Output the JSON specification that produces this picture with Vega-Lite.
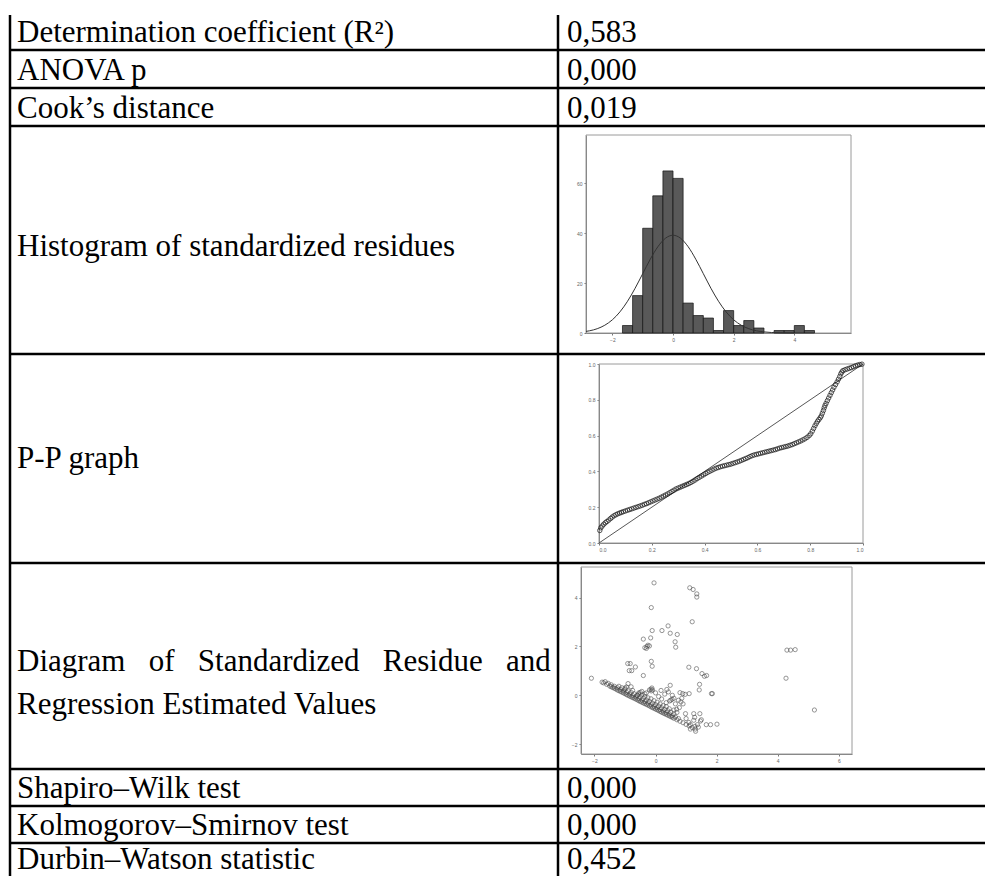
{
"$schema": "https://vega.github.io/schema/vega-lite/v6.json",
"padding": {"left": 8, "top": 13, "right": 0, "bottom": 0},
"background": "white",
"columns": 2,
"spacing": 0,
"bounds": "flush",
"config": {
  "view": {"stroke": null},
  "concat": {"spacing": 0},
  "text": {"font": "Liberation Serif", "fontSize": 31, "color": "black"},
  "rule": {"color": "black", "strokeWidth": 2.5},
  "axis": {"grid": false, "title": null, "labelFont": "Liberation Sans", "labelFontSize": 5, "labelColor": "#666", "tickSize": 2, "tickColor": "#777", "domainColor": "#777", "labelPadding": 2}
},
"concat": [
  {"width": 548, "height": 35, "data": {"values": [{"label": "Determination coefficient (R²)"}]}, "layer": [
    {"mark": {"type": "text", "align": "left", "baseline": "alphabetic", "dx": 7, "dy": -8}, "encoding": {"text": {"field": "label"}, "x": {"value": 0}, "y": {"value": "height"}}},
    {"mark": "rule", "encoding": {"x": {"value": 0}, "y": {"value": 0}, "y2": {"value": "height"}}},
    {"mark": "rule", "encoding": {"x": {"value": "width"}, "y": {"value": 0}, "y2": {"value": "height"}}},
    {"mark": "rule", "encoding": {"x": {"value": 0}, "x2": {"value": "width"}, "y": {"value": "height"}}}
  ]},
  {"width": 427, "height": 35, "data": {"values": [{"label": "0,583"}]}, "layer": [
    {"mark": {"type": "text", "align": "left", "baseline": "alphabetic", "dx": 9, "dy": -8}, "encoding": {"text": {"field": "label"}, "x": {"value": 0}, "y": {"value": "height"}}},
    {"mark": "rule", "encoding": {"x": {"value": 0}, "x2": {"value": "width"}, "y": {"value": "height"}}}
  ]},
  {"width": 548, "height": 38, "data": {"values": [{"label": "ANOVA p"}]}, "layer": [
    {"mark": {"type": "text", "align": "left", "baseline": "alphabetic", "dx": 7, "dy": -8}, "encoding": {"text": {"field": "label"}, "x": {"value": 0}, "y": {"value": "height"}}},
    {"mark": "rule", "encoding": {"x": {"value": 0}, "y": {"value": 0}, "y2": {"value": "height"}}},
    {"mark": "rule", "encoding": {"x": {"value": "width"}, "y": {"value": 0}, "y2": {"value": "height"}}},
    {"mark": "rule", "encoding": {"x": {"value": 0}, "x2": {"value": "width"}, "y": {"value": "height"}}}
  ]},
  {"width": 427, "height": 38, "data": {"values": [{"label": "0,000"}]}, "layer": [
    {"mark": {"type": "text", "align": "left", "baseline": "alphabetic", "dx": 9, "dy": -8}, "encoding": {"text": {"field": "label"}, "x": {"value": 0}, "y": {"value": "height"}}},
    {"mark": "rule", "encoding": {"x": {"value": 0}, "x2": {"value": "width"}, "y": {"value": "height"}}}
  ]},
  {"width": 548, "height": 38, "data": {"values": [{"label": "Cook’s distance"}]}, "layer": [
    {"mark": {"type": "text", "align": "left", "baseline": "alphabetic", "dx": 7, "dy": -8}, "encoding": {"text": {"field": "label"}, "x": {"value": 0}, "y": {"value": "height"}}},
    {"mark": "rule", "encoding": {"x": {"value": 0}, "y": {"value": 0}, "y2": {"value": "height"}}},
    {"mark": "rule", "encoding": {"x": {"value": "width"}, "y": {"value": 0}, "y2": {"value": "height"}}},
    {"mark": "rule", "encoding": {"x": {"value": 0}, "x2": {"value": "width"}, "y": {"value": "height"}}}
  ]},
  {"width": 427, "height": 38, "data": {"values": [{"label": "0,019"}]}, "layer": [
    {"mark": {"type": "text", "align": "left", "baseline": "alphabetic", "dx": 9, "dy": -8}, "encoding": {"text": {"field": "label"}, "x": {"value": 0}, "y": {"value": "height"}}},
    {"mark": "rule", "encoding": {"x": {"value": 0}, "x2": {"value": "width"}, "y": {"value": "height"}}}
  ]},
  {"width": 548, "height": 228, "data": {"values": [{"label": "Histogram of standardized residues"}]}, "layer": [
    {"mark": {"type": "text", "align": "left", "baseline": "alphabetic", "dx": 7, "dy": 130}, "encoding": {"text": {"field": "label"}, "x": {"value": 0}, "y": {"value": 0}}},
    {"mark": "rule", "encoding": {"x": {"value": 0}, "y": {"value": 0}, "y2": {"value": "height"}}},
    {"mark": "rule", "encoding": {"x": {"value": "width"}, "y": {"value": 0}, "y2": {"value": "height"}}},
    {"mark": "rule", "encoding": {"x": {"value": 0}, "x2": {"value": "width"}, "y": {"value": "height"}}}
  ]},
  {"width": 427, "height": 228, "layer": [
    {"data": {"values": [{"k": 1}]}, "mark": {"type": "rect", "fillOpacity": 0, "stroke": "#9a9a9a", "strokeWidth": 1},
     "encoding": {"x": {"datum": -2.87, "type": "quantitative"}, "x2": {"datum": 5.87}, "y": {"datum": 0, "type": "quantitative"}, "y2": {"datum": 79.4}}},
    {"data": {"values": [
      {"bin_start": -1.667, "bin_end": -1.333, "count": 3},
      {"bin_start": -1.333, "bin_end": -1.0, "count": 15},
      {"bin_start": -1.0, "bin_end": -0.667, "count": 42},
      {"bin_start": -0.667, "bin_end": -0.333, "count": 55},
      {"bin_start": -0.333, "bin_end": 0.0, "count": 65},
      {"bin_start": 0.0, "bin_end": 0.333, "count": 62},
      {"bin_start": 0.333, "bin_end": 0.667, "count": 12},
      {"bin_start": 0.667, "bin_end": 1.0, "count": 7},
      {"bin_start": 1.0, "bin_end": 1.333, "count": 6},
      {"bin_start": 1.333, "bin_end": 1.667, "count": 1},
      {"bin_start": 1.667, "bin_end": 2.0, "count": 9},
      {"bin_start": 2.0, "bin_end": 2.333, "count": 3},
      {"bin_start": 2.333, "bin_end": 2.667, "count": 5},
      {"bin_start": 2.667, "bin_end": 3.0, "count": 2},
      {"bin_start": 3.333, "bin_end": 3.667, "count": 1},
      {"bin_start": 3.667, "bin_end": 4.0, "count": 1},
      {"bin_start": 4.0, "bin_end": 4.333, "count": 3},
      {"bin_start": 4.333, "bin_end": 4.667, "count": 1}
    ]},
     "mark": {"type": "rect", "fill": "#595959", "stroke": "#111", "strokeWidth": 0.7},
     "encoding": {
       "x": {"field": "bin_start", "type": "quantitative", "scale": {"domain": [-2.87, 5.87], "range": [28, 293], "nice": false, "zero": false, "padding": 0}, "axis": {"values": [-2, 0, 2, 4], "format": "d", "offset": -21}},
       "x2": {"field": "bin_end"},
       "y": {"field": "count", "type": "quantitative", "scale": {"domain": [0, 79.4], "range": [207, 9], "nice": false, "zero": false, "padding": 0}, "axis": {"values": [0, 20, 40, 60], "format": "d", "offset": -28}},
       "y2": {"datum": 0}
     }},
    {"data": {"values": [
      {"z": -2.87, "freq": 0.64}, {"z": -2.75, "freq": 0.89}, {"z": -2.5, "freq": 1.72}, {"z": -2.25, "freq": 3.12},
      {"z": -2.0, "freq": 5.3}, {"z": -1.75, "freq": 8.48}, {"z": -1.5, "freq": 12.73}, {"z": -1.25, "freq": 17.95},
      {"z": -1.0, "freq": 23.78}, {"z": -0.75, "freq": 29.59}, {"z": -0.5, "freq": 34.59}, {"z": -0.25, "freq": 37.99},
      {"z": 0.0, "freq": 39.2}, {"z": 0.25, "freq": 37.99}, {"z": 0.5, "freq": 34.59}, {"z": 0.75, "freq": 29.59},
      {"z": 1.0, "freq": 23.78}, {"z": 1.25, "freq": 17.95}, {"z": 1.5, "freq": 12.73}, {"z": 1.75, "freq": 8.48},
      {"z": 2.0, "freq": 5.3}, {"z": 2.25, "freq": 3.12}, {"z": 2.5, "freq": 1.72}, {"z": 2.75, "freq": 0.89},
      {"z": 3.0, "freq": 0.44}, {"z": 3.25, "freq": 0.2}, {"z": 3.5, "freq": 0.09}, {"z": 3.75, "freq": 0.04}, {"z": 4.0, "freq": 0.01}
    ]},
     "mark": {"type": "line", "color": "#333", "strokeWidth": 1, "interpolate": "monotone"},
     "encoding": {"x": {"field": "z", "type": "quantitative"}, "y": {"field": "freq", "type": "quantitative"}}},
    {"data": {"values": [{"k": 1}]}, "mark": "rule", "encoding": {"x": {"value": 0}, "x2": {"value": "width"}, "y": {"value": "height"}}}
  ]},
  {"width": 548, "height": 209, "data": {"values": [{"label": "P-P graph"}]}, "layer": [
    {"mark": {"type": "text", "align": "left", "baseline": "alphabetic", "dx": 7, "dy": 114}, "encoding": {"text": {"field": "label"}, "x": {"value": 0}, "y": {"value": 0}}},
    {"mark": "rule", "encoding": {"x": {"value": 0}, "y": {"value": 0}, "y2": {"value": "height"}}},
    {"mark": "rule", "encoding": {"x": {"value": "width"}, "y": {"value": 0}, "y2": {"value": "height"}}},
    {"mark": "rule", "encoding": {"x": {"value": 0}, "x2": {"value": "width"}, "y": {"value": "height"}}}
  ]},
  {"width": 427, "height": 209, "layer": [
    {"data": {"values": [{"k": 1}]}, "mark": {"type": "rect", "fillOpacity": 0, "stroke": "#9a9a9a", "strokeWidth": 1},
     "encoding": {"x": {"datum": 0, "type": "quantitative"}, "x2": {"datum": 1}, "y": {"datum": 0, "type": "quantitative"}, "y2": {"datum": 1}}},
    {"data": {"values": [{"p": 0, "q": 0}, {"p": 1, "q": 1}]},
     "mark": {"type": "line", "color": "#444", "strokeWidth": 0.9},
     "encoding": {
       "x": {"field": "p", "type": "quantitative", "scale": {"domain": [0, 1], "range": [41, 305], "nice": false}, "axis": {"values": [0, 0.2, 0.4, 0.6, 0.8, 1], "format": ".1f", "offset": -20}},
       "y": {"field": "q", "type": "quantitative", "scale": {"domain": [0, 1], "range": [189, 10], "nice": false}, "axis": {"values": [0, 0.2, 0.4, 0.6, 0.8, 1], "format": ".1f", "offset": -41}}
     }},
    {"data": {"values": [
      {"p": 0.003, "q": 0.07}, {"p": 0.007, "q": 0.085}, {"p": 0.012, "q": 0.095}, {"p": 0.018, "q": 0.105}, {"p": 0.024, "q": 0.113},
      {"p": 0.03, "q": 0.12}, {"p": 0.037, "q": 0.128}, {"p": 0.044, "q": 0.137}, {"p": 0.05, "q": 0.145}, {"p": 0.057, "q": 0.152},
      {"p": 0.064, "q": 0.158}, {"p": 0.071, "q": 0.163}, {"p": 0.078, "q": 0.167}, {"p": 0.085, "q": 0.171}, {"p": 0.092, "q": 0.175},
      {"p": 0.1, "q": 0.179}, {"p": 0.108, "q": 0.183}, {"p": 0.116, "q": 0.187}, {"p": 0.124, "q": 0.191}, {"p": 0.132, "q": 0.195},
      {"p": 0.14, "q": 0.199}, {"p": 0.148, "q": 0.203}, {"p": 0.156, "q": 0.207}, {"p": 0.164, "q": 0.211}, {"p": 0.172, "q": 0.216},
      {"p": 0.18, "q": 0.22}, {"p": 0.188, "q": 0.225}, {"p": 0.196, "q": 0.23}, {"p": 0.204, "q": 0.235}, {"p": 0.212, "q": 0.24},
      {"p": 0.22, "q": 0.245}, {"p": 0.228, "q": 0.25}, {"p": 0.236, "q": 0.256}, {"p": 0.244, "q": 0.262}, {"p": 0.252, "q": 0.268},
      {"p": 0.26, "q": 0.274}, {"p": 0.268, "q": 0.281}, {"p": 0.276, "q": 0.288}, {"p": 0.284, "q": 0.295}, {"p": 0.292, "q": 0.302},
      {"p": 0.3, "q": 0.307}, {"p": 0.308, "q": 0.312}, {"p": 0.316, "q": 0.317}, {"p": 0.324, "q": 0.322}, {"p": 0.332, "q": 0.327},
      {"p": 0.34, "q": 0.332}, {"p": 0.348, "q": 0.338}, {"p": 0.356, "q": 0.345}, {"p": 0.364, "q": 0.352}, {"p": 0.372, "q": 0.36},
      {"p": 0.38, "q": 0.367}, {"p": 0.388, "q": 0.374}, {"p": 0.396, "q": 0.381}, {"p": 0.404, "q": 0.388}, {"p": 0.412, "q": 0.395},
      {"p": 0.42, "q": 0.401}, {"p": 0.428, "q": 0.407}, {"p": 0.436, "q": 0.413}, {"p": 0.444, "q": 0.418}, {"p": 0.452, "q": 0.422},
      {"p": 0.46, "q": 0.426}, {"p": 0.468, "q": 0.429}, {"p": 0.476, "q": 0.432}, {"p": 0.484, "q": 0.435}, {"p": 0.492, "q": 0.438},
      {"p": 0.5, "q": 0.441}, {"p": 0.508, "q": 0.445}, {"p": 0.516, "q": 0.449}, {"p": 0.524, "q": 0.453}, {"p": 0.532, "q": 0.457},
      {"p": 0.54, "q": 0.462}, {"p": 0.548, "q": 0.467}, {"p": 0.556, "q": 0.472}, {"p": 0.564, "q": 0.477}, {"p": 0.572, "q": 0.483},
      {"p": 0.58, "q": 0.488}, {"p": 0.588, "q": 0.492}, {"p": 0.596, "q": 0.495}, {"p": 0.604, "q": 0.498}, {"p": 0.612, "q": 0.501},
      {"p": 0.62, "q": 0.504}, {"p": 0.628, "q": 0.507}, {"p": 0.636, "q": 0.51}, {"p": 0.644, "q": 0.513}, {"p": 0.652, "q": 0.516},
      {"p": 0.66, "q": 0.519}, {"p": 0.668, "q": 0.522}, {"p": 0.676, "q": 0.526}, {"p": 0.684, "q": 0.53}, {"p": 0.692, "q": 0.533},
      {"p": 0.7, "q": 0.536}, {"p": 0.708, "q": 0.539}, {"p": 0.716, "q": 0.542}, {"p": 0.724, "q": 0.546}, {"p": 0.732, "q": 0.55},
      {"p": 0.74, "q": 0.555}, {"p": 0.748, "q": 0.56}, {"p": 0.756, "q": 0.565}, {"p": 0.764, "q": 0.57}, {"p": 0.772, "q": 0.576},
      {"p": 0.78, "q": 0.582}, {"p": 0.788, "q": 0.59}, {"p": 0.796, "q": 0.6}, {"p": 0.802, "q": 0.61}, {"p": 0.808, "q": 0.625},
      {"p": 0.813, "q": 0.64}, {"p": 0.818, "q": 0.655}, {"p": 0.823, "q": 0.668}, {"p": 0.828, "q": 0.68}, {"p": 0.833, "q": 0.69},
      {"p": 0.838, "q": 0.7}, {"p": 0.842, "q": 0.71}, {"p": 0.846, "q": 0.725}, {"p": 0.85, "q": 0.74}, {"p": 0.853, "q": 0.755},
      {"p": 0.856, "q": 0.768}, {"p": 0.86, "q": 0.78}, {"p": 0.865, "q": 0.795}, {"p": 0.87, "q": 0.81}, {"p": 0.875, "q": 0.825},
      {"p": 0.88, "q": 0.84}, {"p": 0.885, "q": 0.855}, {"p": 0.89, "q": 0.87}, {"p": 0.896, "q": 0.885}, {"p": 0.902, "q": 0.9},
      {"p": 0.907, "q": 0.915}, {"p": 0.912, "q": 0.93}, {"p": 0.916, "q": 0.945}, {"p": 0.92, "q": 0.955}, {"p": 0.924, "q": 0.963},
      {"p": 0.932, "q": 0.968}, {"p": 0.94, "q": 0.972}, {"p": 0.948, "q": 0.976}, {"p": 0.956, "q": 0.98}, {"p": 0.964, "q": 0.985},
      {"p": 0.972, "q": 0.99}, {"p": 0.98, "q": 0.994}, {"p": 0.988, "q": 0.997}, {"p": 0.996, "q": 0.999}
    ]},
     "mark": {"type": "point", "shape": "circle", "filled": false, "size": 20, "stroke": "#111", "strokeWidth": 1},
     "encoding": {"x": {"field": "p", "type": "quantitative"}, "y": {"field": "q", "type": "quantitative"}}},
    {"data": {"values": [{"k": 1}]}, "mark": "rule", "encoding": {"x": {"value": 0}, "x2": {"value": "width"}, "y": {"value": "height"}}}
  ]},
  {"width": 548, "height": 206, "data": {"values": [{"label": ["Diagram \u00a0\u00a0of \u00a0\u00a0Standardized \u00a0\u00a0Residue \u00a0\u00a0and", "Regression Estimated Values"]}]}, "layer": [
    {"mark": {"type": "text", "align": "left", "baseline": "alphabetic", "dx": 7, "dy": 108, "lineHeight": 43}, "encoding": {"text": {"field": "label"}, "x": {"value": 0}, "y": {"value": 0}}},
    {"mark": "rule", "encoding": {"x": {"value": 0}, "y": {"value": 0}, "y2": {"value": "height"}}},
    {"mark": "rule", "encoding": {"x": {"value": "width"}, "y": {"value": 0}, "y2": {"value": "height"}}},
    {"mark": "rule", "encoding": {"x": {"value": 0}, "x2": {"value": "width"}, "y": {"value": "height"}}}
  ]},
  {"width": 427, "height": 206, "layer": [
    {"data": {"values": [{"k": 1}]}, "mark": {"type": "rect", "fillOpacity": 0, "stroke": "#9a9a9a", "strokeWidth": 1},
     "encoding": {"x": {"datum": -2.44, "type": "quantitative"}, "x2": {"datum": 6.43}, "y": {"datum": -2.4, "type": "quantitative"}, "y2": {"datum": 5.25}}},
    {"data": {"values": [
      {"pred": -1.7, "resid": 0.51}, {"pred": -1.6, "resid": 0.45}, {"pred": -1.5, "resid": 0.38}, {"pred": -1.4, "resid": 0.32}, {"pred": -1.3, "resid": 0.26},
      {"pred": -1.2, "resid": 0.19}, {"pred": -1.1, "resid": 0.13}, {"pred": -1.0, "resid": 0.07}, {"pred": -0.9, "resid": 0.0}, {"pred": -0.8, "resid": -0.06},
      {"pred": -0.7, "resid": -0.12}, {"pred": -0.6, "resid": -0.18}, {"pred": -0.5, "resid": -0.25}, {"pred": -0.4, "resid": -0.31}, {"pred": -0.3, "resid": -0.37},
      {"pred": -0.2, "resid": -0.43}, {"pred": -0.1, "resid": -0.5}, {"pred": 0.0, "resid": -0.56}, {"pred": 0.1, "resid": -0.62}, {"pred": 0.2, "resid": -0.69},
      {"pred": 0.3, "resid": -0.75}, {"pred": 0.4, "resid": -0.81}, {"pred": 0.5, "resid": -0.87}, {"pred": 0.6, "resid": -0.94}, {"pred": 0.7, "resid": -1.0},
      {"pred": 0.8, "resid": -1.06}, {"pred": 0.9, "resid": -1.12}, {"pred": 1.0, "resid": -1.19}, {"pred": 1.1, "resid": -1.25}, {"pred": 1.2, "resid": -1.32},
      {"pred": 1.3, "resid": -1.38},
      {"pred": -1.45, "resid": 0.35}, {"pred": -1.35, "resid": 0.29}, {"pred": -1.25, "resid": 0.22}, {"pred": -1.15, "resid": 0.16}, {"pred": -1.05, "resid": 0.1},
      {"pred": -0.95, "resid": 0.03}, {"pred": -0.85, "resid": -0.03}, {"pred": -0.75, "resid": -0.09}, {"pred": -0.65, "resid": -0.15}, {"pred": -0.55, "resid": -0.22},
      {"pred": -0.45, "resid": -0.28}, {"pred": -0.35, "resid": -0.34}, {"pred": -0.25, "resid": -0.4}, {"pred": -0.15, "resid": -0.47}, {"pred": -0.05, "resid": -0.53},
      {"pred": 0.05, "resid": -0.59}, {"pred": 0.15, "resid": -0.66}, {"pred": 0.25, "resid": -0.72}, {"pred": 0.35, "resid": -0.78}, {"pred": 0.45, "resid": -0.84},
      {"pred": 0.55, "resid": -0.9},
      {"pred": -1.65, "resid": 0.56}, {"pred": -1.55, "resid": 0.49}, {"pred": -1.45, "resid": 0.43}, {"pred": -1.35, "resid": 0.37}, {"pred": -1.25, "resid": 0.31},
      {"pred": -1.15, "resid": 0.24}, {"pred": -1.05, "resid": 0.18}, {"pred": -0.95, "resid": 0.12}, {"pred": -0.85, "resid": 0.05}, {"pred": -0.75, "resid": -0.01},
      {"pred": -0.65, "resid": -0.07}, {"pred": -0.55, "resid": -0.14}, {"pred": -0.45, "resid": -0.2}, {"pred": -0.35, "resid": -0.26}, {"pred": -0.25, "resid": -0.32},
      {"pred": -0.15, "resid": -0.39}, {"pred": -0.05, "resid": -0.45}, {"pred": 0.05, "resid": -0.51}, {"pred": 0.15, "resid": -0.58}, {"pred": 0.25, "resid": -0.64},
      {"pred": 0.35, "resid": -0.7}, {"pred": 0.45, "resid": -0.76}, {"pred": 0.55, "resid": -0.83}, {"pred": 0.65, "resid": -0.89}, {"pred": 0.75, "resid": -0.95},
      {"pred": -1.2, "resid": 0.37}, {"pred": -1.1, "resid": 0.31}, {"pred": -1.0, "resid": 0.25}, {"pred": -0.9, "resid": 0.18}, {"pred": -0.8, "resid": 0.12},
      {"pred": -0.7, "resid": 0.06}, {"pred": -0.6, "resid": 0.0}, {"pred": -0.5, "resid": -0.07}, {"pred": -0.4, "resid": -0.13}, {"pred": -0.3, "resid": -0.19},
      {"pred": -0.2, "resid": -0.25}, {"pred": -0.1, "resid": -0.32}, {"pred": 0.0, "resid": -0.38}, {"pred": 0.1, "resid": -0.44}, {"pred": 0.2, "resid": -0.51},
      {"pred": 0.3, "resid": -0.57}, {"pred": 0.4, "resid": -0.63}, {"pred": 0.5, "resid": -0.69}, {"pred": 0.6, "resid": -0.76},
      {"pred": -0.95, "resid": 0.34}, {"pred": -0.75, "resid": 0.2}, {"pred": -0.55, "resid": 0.1}, {"pred": -0.45, "resid": 0.02}, {"pred": -0.35, "resid": -0.05},
      {"pred": -0.25, "resid": -0.1}, {"pred": -0.15, "resid": -0.14}, {"pred": -0.05, "resid": -0.22}, {"pred": 0.05, "resid": -0.28}, {"pred": 0.15, "resid": -0.35},
      {"pred": 0.25, "resid": -0.42}, {"pred": 0.35, "resid": -0.46}, {"pred": 0.45, "resid": -0.55}, {"pred": 0.6, "resid": -0.6},
      {"pred": -0.55, "resid": 0.05}, {"pred": -0.5, "resid": 0.12}, {"pred": -0.45, "resid": 0.16}, {"pred": -0.6, "resid": 0.0}, {"pred": -0.35, "resid": 0.06},
      {"pred": -0.2, "resid": 0.22}, {"pred": -0.15, "resid": 0.25}, {"pred": -0.12, "resid": 0.3}, {"pred": -0.1, "resid": 0.22}, {"pred": -0.14, "resid": 0.18},
      {"pred": 0.18, "resid": 0.2}, {"pred": 0.37, "resid": 0.24}, {"pred": 0.48, "resid": 0.41}, {"pred": 0.42, "resid": 0.14}, {"pred": 0.3, "resid": 0.05},
      {"pred": 0.55, "resid": 0.0}, {"pred": 0.5, "resid": -0.2}, {"pred": 0.46, "resid": -0.23}, {"pred": 0.54, "resid": -0.16}, {"pred": 0.6, "resid": -0.12},
      {"pred": 0.86, "resid": -0.12}, {"pred": 0.83, "resid": -0.27}, {"pred": 0.69, "resid": -0.57}, {"pred": 0.78, "resid": -0.5}, {"pred": 0.9, "resid": -0.35},
      {"pred": 0.8, "resid": 0.11}, {"pred": 0.89, "resid": 0.07}, {"pred": 0.97, "resid": 0.04}, {"pred": 1.1, "resid": 0.07}, {"pred": 0.98, "resid": -0.75},
      {"pred": 1.25, "resid": -0.75}, {"pred": 1.45, "resid": -0.75}, {"pred": 1.28, "resid": -0.9}, {"pred": 1.47, "resid": -1.05}, {"pred": 1.09, "resid": -1.11},
      {"pred": 1.14, "resid": -1.2}, {"pred": 1.29, "resid": -1.27}, {"pred": 1.37, "resid": -1.2}, {"pred": 1.14, "resid": -1.38}, {"pred": 1.31, "resid": -1.47},
      {"pred": 1.66, "resid": -1.2}, {"pred": 1.8, "resid": -1.2}, {"pred": 2.01, "resid": -1.18}, {"pred": 1.4, "resid": -1.3}, {"pred": 1.5, "resid": -1.0},
      {"pred": 1.25, "resid": -1.02}, {"pred": 1.0, "resid": -0.95}, {"pred": 0.7, "resid": -0.7}, {"pred": 0.65, "resid": -0.35}, {"pred": 0.75, "resid": -0.2},
      {"pred": 0.35, "resid": -0.3}, {"pred": 0.2, "resid": -0.15}, {"pred": 0.1, "resid": -0.05}, {"pred": 0.0, "resid": 0.1}, {"pred": -0.3, "resid": 0.1},
      {"pred": -0.8, "resid": 0.35}, {"pred": -0.9, "resid": 0.48}, {"pred": -1.0, "resid": 0.3},
      {"pred": -0.05, "resid": 4.6}, {"pred": 1.12, "resid": 4.4}, {"pred": 1.23, "resid": 4.33}, {"pred": 1.35, "resid": 4.15}, {"pred": 1.35, "resid": 4.02},
      {"pred": -0.14, "resid": 3.59}, {"pred": 1.2, "resid": 3.01}, {"pred": 0.41, "resid": 2.84}, {"pred": 0.21, "resid": 2.65}, {"pred": -0.11, "resid": 2.65},
      {"pred": 0.48, "resid": 2.54}, {"pred": 0.71, "resid": 2.49}, {"pred": -0.4, "resid": 2.3}, {"pred": -0.16, "resid": 2.35}, {"pred": -0.25, "resid": 2.05},
      {"pred": -0.28, "resid": 2.0}, {"pred": -0.35, "resid": 1.95}, {"pred": -0.3, "resid": 1.92}, {"pred": -0.2, "resid": 2.02}, {"pred": 0.64, "resid": 2.19},
      {"pred": 0.66, "resid": 1.97}, {"pred": 4.3, "resid": 1.85}, {"pred": 4.42, "resid": 1.85}, {"pred": 4.57, "resid": 1.87}, {"pred": 4.27, "resid": 0.7},
      {"pred": 5.2, "resid": -0.6}, {"pred": -0.14, "resid": 1.39}, {"pred": -0.11, "resid": 1.19}, {"pred": -0.91, "resid": 1.3}, {"pred": -0.83, "resid": 1.3},
      {"pred": -0.66, "resid": 1.16}, {"pred": -0.86, "resid": 1.01}, {"pred": -0.78, "resid": 1.01}, {"pred": -0.4, "resid": 0.81}, {"pred": -2.1, "resid": 0.7},
      {"pred": 1.09, "resid": 1.15}, {"pred": 1.34, "resid": 1.09}, {"pred": 1.52, "resid": 0.89}, {"pred": 1.6, "resid": 0.78}, {"pred": 1.67, "resid": 0.81},
      {"pred": 1.44, "resid": 0.45}, {"pred": 1.43, "resid": 0.22}, {"pred": 1.83, "resid": 0.07}, {"pred": 1.86, "resid": 0.07}, {"pred": -1.75, "resid": 0.54}
    ]},
     "mark": {"type": "point", "shape": "circle", "filled": false, "size": 18, "stroke": "#444", "strokeWidth": 0.8},
     "encoding": {
       "x": {"field": "pred", "type": "quantitative", "scale": {"domain": [-2.44, 6.43], "range": [23, 294], "nice": false, "zero": false}, "axis": {"values": [-2, 0, 2, 4, 6], "format": "d", "offset": -15}},
       "y": {"field": "resid", "type": "quantitative", "scale": {"domain": [-2.4, 5.25], "range": [191, 4], "nice": false, "zero": false}, "axis": {"values": [-2, 0, 2, 4], "format": "d", "offset": -23}}
     }},
    {"data": {"values": [{"k": 1}]}, "mark": "rule", "encoding": {"x": {"value": 0}, "x2": {"value": "width"}, "y": {"value": "height"}}}
  ]},
  {"width": 548, "height": 37, "data": {"values": [{"label": "Shapiro–Wilk test"}]}, "layer": [
    {"mark": {"type": "text", "align": "left", "baseline": "alphabetic", "dx": 7, "dy": -8}, "encoding": {"text": {"field": "label"}, "x": {"value": 0}, "y": {"value": "height"}}},
    {"mark": "rule", "encoding": {"x": {"value": 0}, "y": {"value": 0}, "y2": {"value": "height"}}},
    {"mark": "rule", "encoding": {"x": {"value": "width"}, "y": {"value": 0}, "y2": {"value": "height"}}},
    {"mark": "rule", "encoding": {"x": {"value": 0}, "x2": {"value": "width"}, "y": {"value": "height"}}}
  ]},
  {"width": 427, "height": 37, "data": {"values": [{"label": "0,000"}]}, "layer": [
    {"mark": {"type": "text", "align": "left", "baseline": "alphabetic", "dx": 9, "dy": -8}, "encoding": {"text": {"field": "label"}, "x": {"value": 0}, "y": {"value": "height"}}},
    {"mark": "rule", "encoding": {"x": {"value": 0}, "x2": {"value": "width"}, "y": {"value": "height"}}}
  ]},
  {"width": 548, "height": 37, "data": {"values": [{"label": "Kolmogorov–Smirnov test"}]}, "layer": [
    {"mark": {"type": "text", "align": "left", "baseline": "alphabetic", "dx": 7, "dy": -8}, "encoding": {"text": {"field": "label"}, "x": {"value": 0}, "y": {"value": "height"}}},
    {"mark": "rule", "encoding": {"x": {"value": 0}, "y": {"value": 0}, "y2": {"value": "height"}}},
    {"mark": "rule", "encoding": {"x": {"value": "width"}, "y": {"value": 0}, "y2": {"value": "height"}}},
    {"mark": "rule", "encoding": {"x": {"value": 0}, "x2": {"value": "width"}, "y": {"value": "height"}}}
  ]},
  {"width": 427, "height": 37, "data": {"values": [{"label": "0,000"}]}, "layer": [
    {"mark": {"type": "text", "align": "left", "baseline": "alphabetic", "dx": 9, "dy": -8}, "encoding": {"text": {"field": "label"}, "x": {"value": 0}, "y": {"value": "height"}}},
    {"mark": "rule", "encoding": {"x": {"value": 0}, "x2": {"value": "width"}, "y": {"value": "height"}}}
  ]},
  {"width": 548, "height": 35, "data": {"values": [{"label": "Durbin–Watson statistic"}]}, "layer": [
    {"mark": {"type": "text", "align": "left", "baseline": "alphabetic", "dx": 7, "dy": 26}, "encoding": {"text": {"field": "label"}, "x": {"value": 0}, "y": {"value": 0}}},
    {"mark": "rule", "encoding": {"x": {"value": 0}, "y": {"value": 0}, "y2": {"value": "height"}}},
    {"mark": "rule", "encoding": {"x": {"value": "width"}, "y": {"value": 0}, "y2": {"value": "height"}}}
  ]},
  {"width": 427, "height": 35, "data": {"values": [{"label": "0,452"}]}, "layer": [
    {"mark": {"type": "text", "align": "left", "baseline": "alphabetic", "dx": 9, "dy": 26}, "encoding": {"text": {"field": "label"}, "x": {"value": 0}, "y": {"value": 0}}}
  ]}
]
}
